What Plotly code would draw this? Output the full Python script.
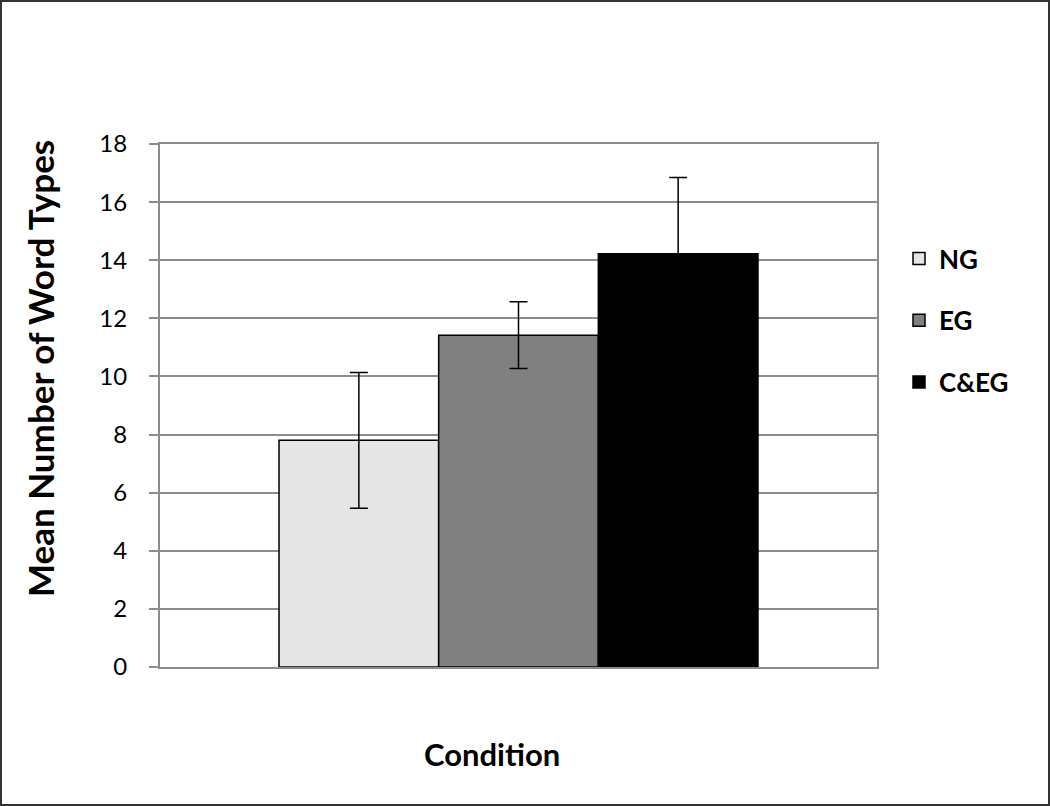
import plotly.graph_objects as go

conditions = ["NG", "EG", "C&EG"]
means = [7.8, 11.42, 14.22]
errors = [2.34, 1.15, 2.63]
colors = ["#e5e5e5", "#808080", "#000000"]
y_ticks = [0, 2, 4, 6, 8, 10, 12, 14, 16, 18]

FONT = "Lato, 'Open Sans', sans-serif"

fig = go.Figure()
for name, m, e, c in zip(conditions, means, errors, colors):
    fig.add_trace(go.Bar(
        x=[""], y=[m], name=name,
        marker=dict(color=c, line=dict(color="#000000", width=1.5)),
        error_y=dict(type="data", array=[e], visible=True, color="#000000",
                     thickness=1.5, width=9),
        legendgroup=name,
    ))

L, R, T, B = 160, 173, 144, 139
W, H = 1050, 806
pw, ph = W - L - R, H - T - B

def px_x(x):
    return (x - L) / pw

def px_y(y):
    return (H - B - y) / ph

fig.update_layout(
    width=W, height=H,
    margin=dict(l=L, r=R, t=T, b=B, autoexpand=False),
    paper_bgcolor="white", plot_bgcolor="white",
    barmode="group", bargap=0.332, bargroupgap=0,
    font=dict(family=FONT, color="#000000"),
    showlegend=True,
    legend=dict(
        x=px_x(899), y=px_y(235), xanchor="left", yanchor="top",
        font=dict(size=26, family=FONT, color="#000000", weight="bold"),
        tracegroupgap=25, bgcolor="rgba(0,0,0,0)",
    ),
    xaxis=dict(
        showticklabels=False, ticks="", showgrid=False,
        showline=True, linecolor="#8c8c8c", linewidth=2, mirror=True,
        zeroline=False,
    ),
    yaxis=dict(
        range=[0, 18], tickvals=y_ticks, ticktext=[str(v) for v in y_ticks],
        showgrid=True, gridcolor="#8c8c8c", gridwidth=1.5,
        showline=True, linecolor="#8c8c8c", linewidth=2, mirror=True,
        ticks="outside", ticklen=9, tickcolor="#8c8c8c", tickwidth=1.5,
        tickfont=dict(size=24, family=FONT, color="#000000"),
        ticklabelstandoff=17, zeroline=False,
    ),
    shapes=[dict(
        type="rect", xref="paper", yref="paper",
        x0=px_x(1), x1=px_x(1049), y0=px_y(805), y1=px_y(1),
        line=dict(color="#333333", width=2), fillcolor="rgba(0,0,0,0)",
        layer="below",
    )],
    annotations=[
        dict(text="<b>Condition</b>", xref="paper", yref="paper",
             x=px_x(492), y=px_y(754), showarrow=False,
             font=dict(size=31, family=FONT, color="#000000"),
             xanchor="center", yanchor="middle"),
        dict(text="<b>Mean Number of Word Types</b>", xref="paper", yref="paper",
             x=px_x(40), y=px_y(369), showarrow=False, textangle=-90,
             font=dict(size=35, family=FONT, color="#000000"),
             xanchor="center", yanchor="middle"),
    ],
)

fig.write_html("out.html", config={"displayModeBar": False},
               post_script="document.body.style.margin='0';document.body.style.overflow='hidden';")
